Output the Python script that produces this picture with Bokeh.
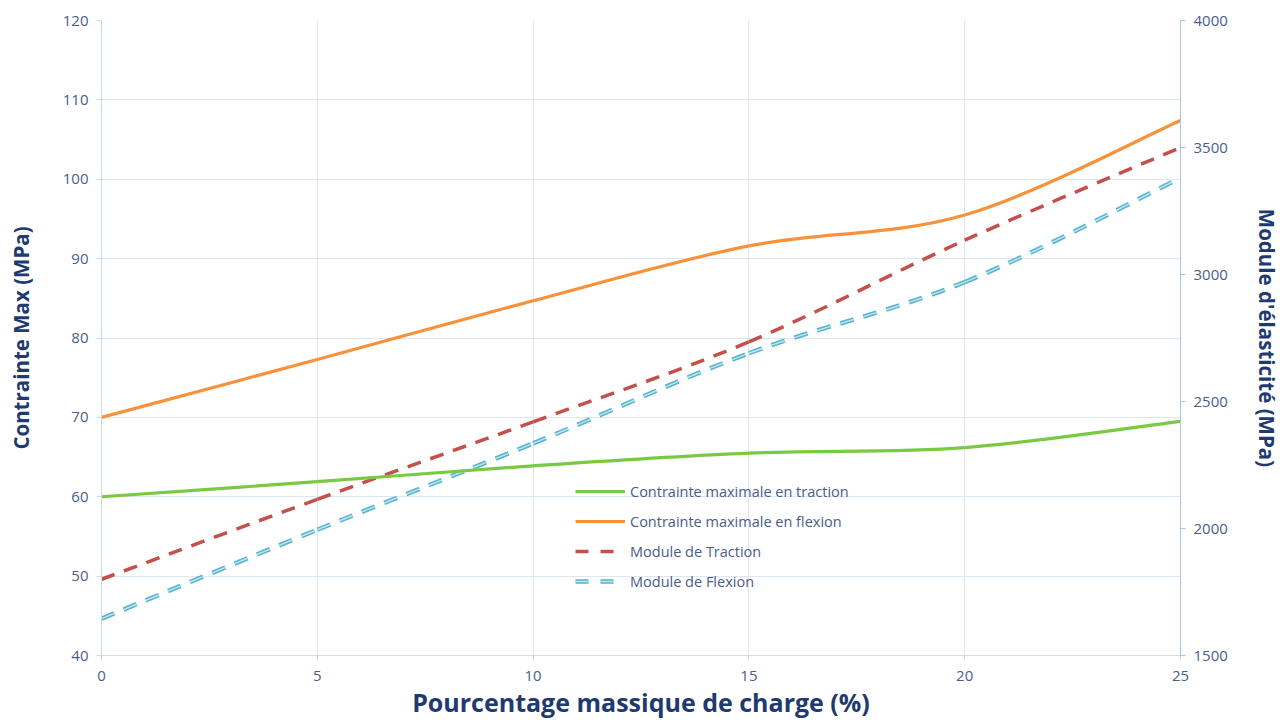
from bokeh.plotting import figure
from bokeh.models import Range1d, LinearAxis, FixedTicker, Legend, LegendItem, ColumnDataSource
from bokeh.embed import file_html
from bokeh.resources import INLINE

# ---- data ----
charge = [0, 5, 10, 15, 20, 25]
contrainte_traction = [60.0, 61.9, 63.9, 65.5, 66.2, 69.5]
contrainte_flexion = [70.0, 77.3, 84.7, 91.6, 95.5, 107.4]
module_traction = [1800, 2115, 2420, 2735, 3135, 3500]
module_flexion = [1645, 1995, 2335, 2690, 2970, 3380]

x_ticks = [0, 5, 10, 15, 20, 25]
left_ticks = [40, 50, 60, 70, 80, 90, 100, 110, 120]
right_ticks = [1500, 2000, 2500, 3000, 3500, 4000]

FONT = "Open Sans"
TICK_COL = "#4a5d8a"
TITLE_COL = "#1f3a6e"
GRID_COL = "#dde7f3"


def smooth_segments(xs, ys):
    """Bezier control points (Excel-like smoothing) from the data points."""
    n = len(xs)
    d = dict(x0=[], y0=[], x1=[], y1=[], cx0=[], cy0=[], cx1=[], cy1=[])
    for i in range(n - 1):
        xp, yp = (xs[i - 1], ys[i - 1]) if i > 0 else (xs[i], ys[i])
        xn, yn = (xs[i + 2], ys[i + 2]) if i + 2 < n else (xs[i + 1], ys[i + 1])
        d["x0"].append(xs[i]); d["y0"].append(ys[i])
        d["x1"].append(xs[i + 1]); d["y1"].append(ys[i + 1])
        d["cx0"].append(xs[i] + (xs[i + 1] - xp) / 6)
        d["cy0"].append(ys[i] + (ys[i + 1] - yp) / 6)
        d["cx1"].append(xs[i + 1] - (xn - xs[i]) / 6)
        d["cy1"].append(ys[i + 1] - (yn - ys[i]) / 6)
    return ColumnDataSource(d)


p = figure(width=1283, height=722, output_backend="svg", toolbar_location=None,
           x_range=Range1d(0, 25), y_range=Range1d(40, 120),
           min_border_left=101, min_border_right=103, min_border_top=20, min_border_bottom=67,
           background_fill_color="white", border_fill_color="white")
p.outline_line_color = None
p.extra_y_ranges = {"right": Range1d(1500, 4000)}

# grid
p.xgrid.ticker = FixedTicker(ticks=x_ticks)
p.ygrid.ticker = FixedTicker(ticks=left_ticks)
p.xgrid.grid_line_color = GRID_COL
p.ygrid.grid_line_color = GRID_COL
p.xgrid.grid_line_width = 1
p.ygrid.grid_line_width = 1

# axes
xa = p.xaxis[0]
xa.ticker = FixedTicker(ticks=x_ticks)
xa.axis_label = "Pourcentage massique de charge (%)"
ya = p.yaxis[0]
ya.ticker = FixedTicker(ticks=left_ticks)
ya.axis_label = "Contrainte Max (MPa)"

ra = LinearAxis(y_range_name="right", ticker=FixedTicker(ticks=right_ticks),
                axis_label="Module d'élasticité (MPa)")
p.add_layout(ra, "right")

for ax in (xa, ya, ra):
    ax.major_label_text_font = FONT
    ax.major_label_text_font_size = "15px"
    ax.major_label_text_color = TICK_COL
    ax.axis_label_text_font = FONT
    ax.axis_label_text_font_style = "bold"
    ax.axis_label_text_color = TITLE_COL
    ax.minor_tick_line_color = None
    ax.major_tick_in = 0
    ax.major_tick_out = 5
xa.axis_label_text_font_size = "25px"
ya.axis_label_text_font_size = "20.5px"
ra.axis_label_text_font_size = "20.5px"
xa.axis_line_color = "#d5dce8"
xa.major_tick_line_color = "#d5dce8"
ya.axis_line_color = "#c9d8ee"
ya.major_tick_line_color = "#c9d8ee"
ra.axis_line_color = "#a9c3e8"
ra.major_tick_line_color = "#a9c3e8"
xa.major_label_standoff = 10
ya.major_label_standoff = 8
ra.major_label_standoff = 8
xa.axis_label_standoff = 1
ya.axis_label_standoff = 25
ra.axis_label_standoff = 22

GREEN = "#7ac943"
ORANGE = "#f7923a"
RED = "#c4504c"
BLUE = "#56b4cf"
BLUE_IN = "#bfe5f0"
DASH = "14 10"

# curves
p.bezier(x0="x0", y0="y0", x1="x1", y1="y1", cx0="cx0", cy0="cy0", cx1="cx1", cy1="cy1",
         source=smooth_segments(charge, module_flexion), y_range_name="right",
         line_color=BLUE, line_width=4.5, line_dash=DASH)
p.bezier(x0="x0", y0="y0", x1="x1", y1="y1", cx0="cx0", cy0="cy0", cx1="cx1", cy1="cy1",
         source=smooth_segments(charge, module_flexion), y_range_name="right",
         line_color=BLUE_IN, line_width=1.5, line_dash=DASH)
p.bezier(x0="x0", y0="y0", x1="x1", y1="y1", cx0="cx0", cy0="cy0", cx1="cx1", cy1="cy1",
         source=smooth_segments(charge, module_traction), y_range_name="right",
         line_color=RED, line_width=3.5, line_dash=DASH)
p.bezier(x0="x0", y0="y0", x1="x1", y1="y1", cx0="cx0", cy0="cy0", cx1="cx1", cy1="cy1",
         source=smooth_segments(charge, contrainte_traction),
         line_color=GREEN, line_width=3.2)
p.bezier(x0="x0", y0="y0", x1="x1", y1="y1", cx0="cx0", cy0="cy0", cx1="cx1", cy1="cy1",
         source=smooth_segments(charge, contrainte_flexion),
         line_color=ORANGE, line_width=3.2)

# legend proxies (one NaN point each: nothing drawn in the plot area)
nan = float("nan")
lg_g = p.line(x=[charge[0]], y=[nan], line_color=GREEN, line_width=3)
lg_o = p.line(x=[charge[0]], y=[nan], line_color=ORANGE, line_width=3)
lg_r = p.line(x=[charge[0]], y=[nan], line_color=RED, line_width=3.5, line_dash="13 12")
lg_b1 = p.line(x=[charge[0]], y=[nan], line_color=BLUE, line_width=4.5, line_dash="13 12")
lg_b2 = p.line(x=[charge[0]], y=[nan], line_color=BLUE_IN, line_width=1.5, line_dash="13 12")

legend = Legend(items=[
    LegendItem(label="Contrainte maximale en traction", renderers=[lg_g]),
    LegendItem(label="Contrainte maximale en flexion", renderers=[lg_o]),
    LegendItem(label="Module de Traction", renderers=[lg_r]),
    LegendItem(label="Module de Flexion", renderers=[lg_b1, lg_b2]),
], location=(474, 64))
legend.background_fill_alpha = 0
legend.border_line_color = None
legend.label_text_font = FONT
legend.label_text_font_size = "14.5px"
legend.label_text_color = TICK_COL
legend.glyph_width = 50
legend.glyph_height = 20
legend.label_height = 20
legend.spacing = 10
legend.label_standoff = 5
legend.padding = 5
legend.margin = 0
p.add_layout(legend, "center")

open("out.html", "w").write(file_html(p, INLINE))
